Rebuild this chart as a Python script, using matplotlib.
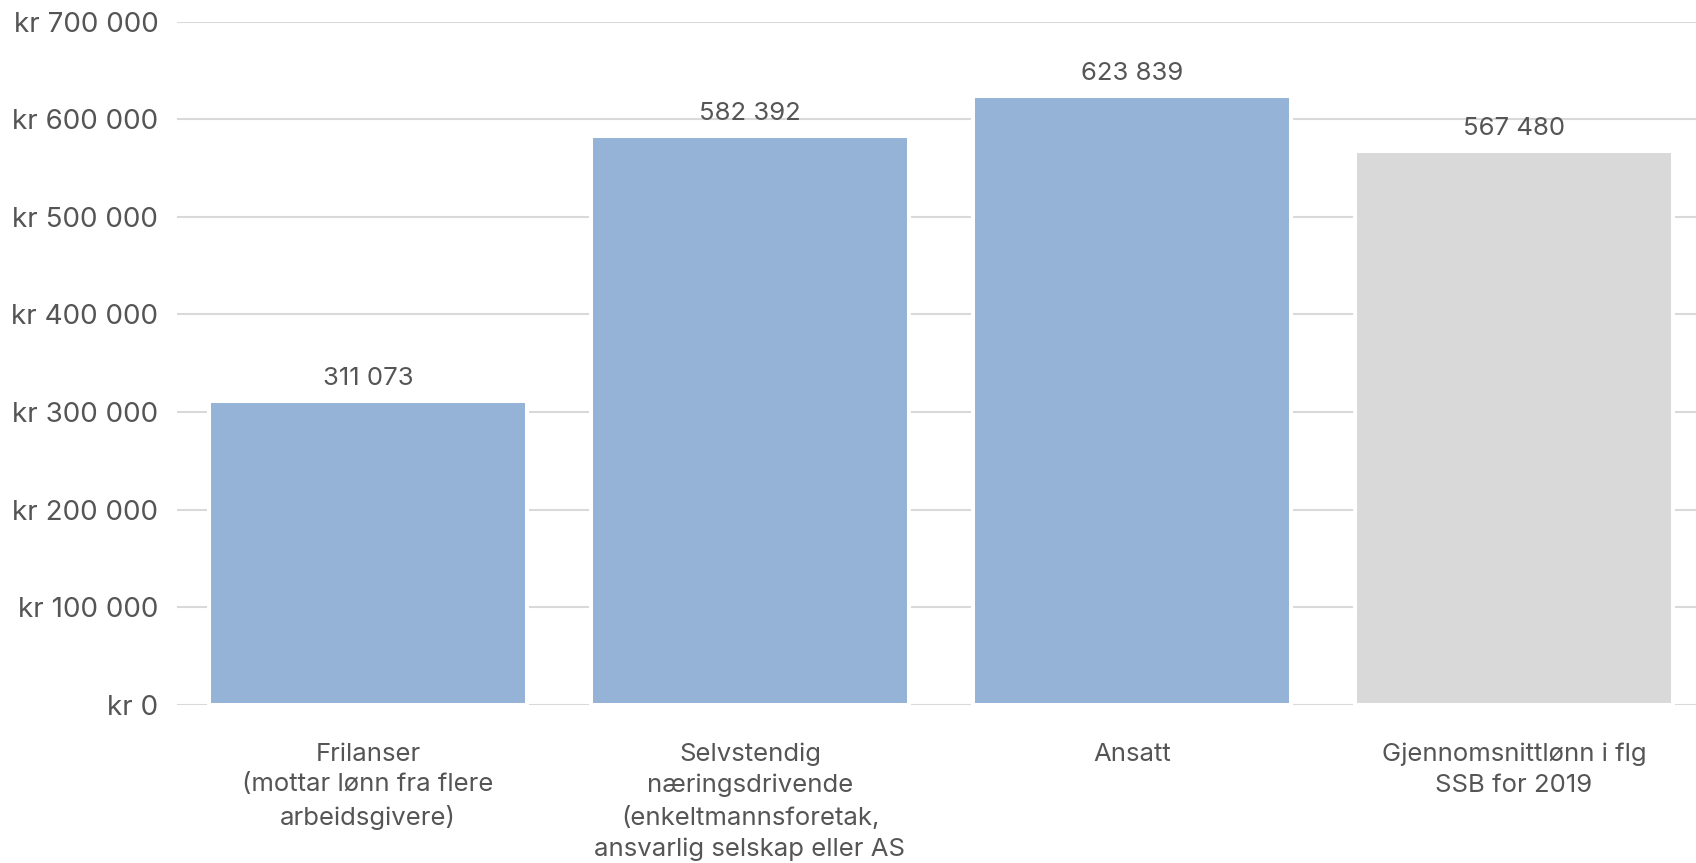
import matplotlib
matplotlib.use("Agg")
import matplotlib.pyplot as plt
from matplotlib.ticker import FuncFormatter

categories = [
    "Frilanser\n(mottar lønn fra flere\narbeidsgivere)",
    "Selvstendig\nnæringsdrivende\n(enkeltmannsforetak,\nansvarlig selskap eller AS",
    "Ansatt",
    "Gjennomsnittlønn i flg\nSSB for 2019",
]
values = [311073, 582392, 623839, 567480]
colors = ["#95B3D7", "#95B3D7", "#95B3D7", "#D9D9D9"]
yticks = [0, 100000, 200000, 300000, 400000, 500000, 600000, 700000]

plt.rcParams['font.family'] = ['Inter', 'DejaVu Sans']
txt = "#555555"

W, H = 1696, 863
fig = plt.figure(figsize=(W / 100, H / 100), dpi=100)
left = 177 / W
width = 1528 / W
bottom = 1 - 705 / H
top = 1 - 21.6 / H
ax = fig.add_axes([left, bottom, width, top - bottom])

x = list(range(len(values)))
bars = ax.bar(x, values, width=0.832, color=colors, edgecolor="white",
              linewidth=2.9, zorder=3)
ax.set_xlim(-0.5, 3.5)
ax.set_ylim(0, 700000)
ax.set_yticks(yticks)
ax.yaxis.set_major_formatter(FuncFormatter(
    lambda v, p: "kr " + f"{int(v):,}".replace(",", " ")))
ax.grid(axis="y", color="#D9D9D9", linewidth=1.5, zorder=0)
ax.set_axisbelow(True)
for s in ax.spines.values():
    s.set_visible(False)
ax.tick_params(axis="both", length=0, labelcolor=txt)
ax.tick_params(axis="y", pad=13.5, labelsize=20)
ax.tick_params(axis="x", pad=27, labelsize=18.5)
ax.set_xticks(x)
ax.set_xticklabels(categories, linespacing=1.43)

for xi, v in zip(x, values):
    ax.annotate(f"{v:,}".replace(",", " "), (xi, v), xytext=(0, 8),
                textcoords="offset points", ha="center", va="bottom",
                fontsize=18.5, color=txt)

fig.savefig("out.png", dpi=100)
